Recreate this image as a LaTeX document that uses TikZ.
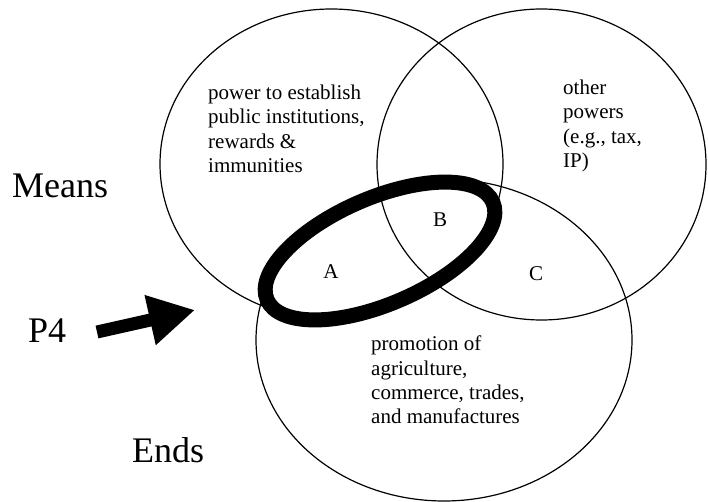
\documentclass[tikz,border=0pt]{standalone}
\usepackage{fontspec}
\setmainfont{Liberation Serif}
\usetikzlibrary{arrows.meta}
\begin{document}
\begin{tikzpicture}[x=1pt,y=-1pt,
  venn/.style={draw=black, line width=1.2pt},
  focus/.style={draw=black, line width=15pt},
  body/.style={font=\fontsize{21}{24.4}\selectfont, align=left, inner sep=0pt, anchor=north west},
  big/.style={font=\fontsize{36}{40}\selectfont, inner sep=0pt, anchor=base west},
  letter/.style={font=\fontsize{21}{24}\selectfont, inner sep=0pt, anchor=base},
  bigarrow/.style={line width=13pt, -{Triangle[length=46pt,width=48pt]}}
  ]
\useasboundingbox (0,0) rectangle (708,502);
% circles
\draw[venn] (331.5,164) ellipse [x radius=171.5, y radius=155];
\draw[venn] (541.5,164.5) ellipse [x radius=164.5, y radius=155.5];
\draw[venn] (444,340) ellipse [x radius=188, y radius=161];
% thick ellipse
\draw[focus, rotate around={23.4:(380,251)}] (380,251) ellipse [x radius=123, y radius=53];
% texts
\node[body] (means1) at (208,84.7) {power to establish\\public institutions,\\rewards \&\\immunities};
\node[body] (other) at (563,79.7) {other\\powers\\(e.g., tax,\\IP)};
\node[body] (ends1) at (371,335.7) {promotion of\\agriculture,\\commerce, trades,\\and manufactures};
\node[letter] (A) at (331,278) {A};
\node[letter] (B) at (440,227) {B};
\node[letter] (C) at (536,280) {C};
\node[big] (means) at (12,198) {Means};
\node[big] (p4) at (28,342) {P4};
\node[big] (ends) at (132,462) {Ends};
% arrow
\coordinate (tail) at (97,332);
\coordinate (tip) at (195,310);
\draw[bigarrow] (tail) -- (tip);
\end{tikzpicture}
\end{document}
